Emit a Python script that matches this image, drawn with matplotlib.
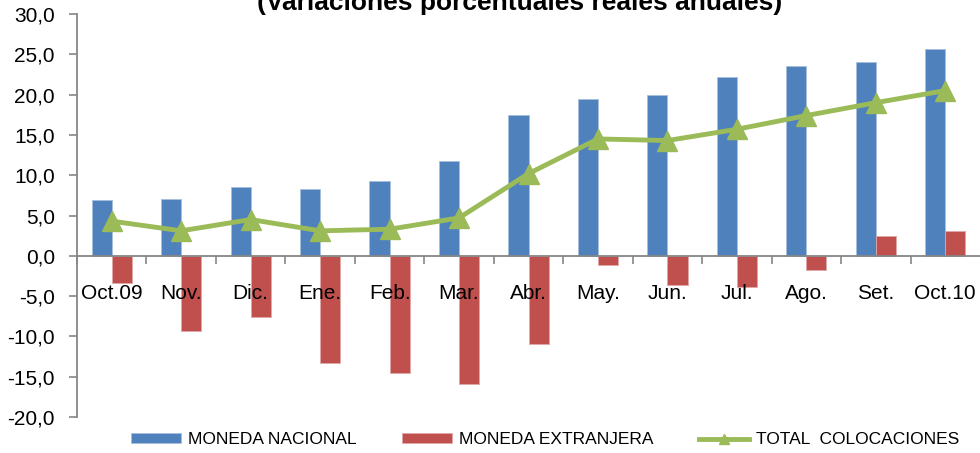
import matplotlib
matplotlib.use("Agg")
import matplotlib.pyplot as plt
import numpy as np

categories = ["Oct.09", "Nov.", "Dic.", "Ene.", "Feb.", "Mar.", "Abr.", "May.",
              "Jun.", "Jul.", "Ago.", "Set.", "Oct.10"]
moneda_nacional = [6.9, 7.1, 8.5, 8.3, 9.25, 11.8, 17.5, 19.5, 20.0, 22.2, 23.5, 24.0, 25.6]
moneda_extranjera = [-3.4, -9.3, -7.6, -13.3, -14.5, -15.9, -11.0, -1.1, -3.6, -3.9, -1.8, 2.5, 3.1]
total_colocaciones = [4.3, 3.1, 4.5, 3.1, 3.3, 4.7, 10.2, 14.5, 14.3, 15.7, 17.4, 19.0, 20.5]
yticks = [-20, -15, -10, -5, 0, 5, 10, 15, 20, 25, 30]
title = "(Variaciones porcentuales reales anuales)"

plt.rcParams['font.family'] = ['Liberation Sans', 'DejaVu Sans']

W, H = 980, 453
fig = plt.figure(figsize=(W / 100, H / 100), dpi=100)
ax = fig.add_axes([77 / W, 1 - 417 / H, (980 - 77) / W, (417 - 14) / H])

for s in ["top", "right"]:
    ax.spines[s].set_visible(False)
ax.spines["bottom"].set_position(("data", 0))
ax.spines["bottom"].set_color("#868686")
ax.spines["bottom"].set_linewidth(1.3)
ax.spines["left"].set_color("#868686")
ax.spines["left"].set_linewidth(1.3)
ax.set_axisbelow(False)

x = np.arange(len(categories))
bw = 0.29
blue = "#4F81BD"
red = "#C0504D"
green = "#9BBB59"
b1 = ax.bar(x - bw / 2, moneda_nacional, bw, color=blue, edgecolor="#A7C0DE", linewidth=0.6,
            label="MONEDA NACIONAL", zorder=2)
b2 = ax.bar(x + bw / 2, moneda_extranjera, bw, color=red, edgecolor="#E0A8A6", linewidth=0.6,
            label="MONEDA EXTRANJERA", zorder=2)
l1, = ax.plot(x, total_colocaciones, color=green, linewidth=3.5, marker="^", markersize=14,
              markeredgecolor=green, label="TOTAL  COLOCACIONES", zorder=3)

ax.set_xlim(-0.5, len(categories) - 0.5)
ax.set_ylim(-20, 30)
ax.set_yticks(yticks)
ax.set_yticklabels([f"{v:.1f}".replace(".", ",") for v in yticks])
ax.set_xticks(x)
ax.set_xticklabels(categories)
ax.set_xticks(np.arange(-0.5, len(categories) - 0.5, 1.0), minor=True)
ax.tick_params(axis="x", which="major", length=0, pad=20, labelsize=15, labelcolor="black")
ax.tick_params(axis="x", which="minor", length=6, width=1.2, color="#868686", direction="out")
ax.tick_params(axis="y", length=6, width=1.2, color="#868686", direction="out", pad=10,
               labelsize=15)

fig.text(520 / W, 1 - 10 / H, title, ha="center", va="baseline", fontsize=19, fontweight="bold")

fig.legend([b1, b2, l1], ["MONEDA NACIONAL", "MONEDA EXTRANJERA", "TOTAL  COLOCACIONES"],
           loc="center", bbox_to_anchor=(545 / W, 1 - 440 / H), ncol=3,
           frameon=False, fontsize=12.5, handlelength=2.9, handleheight=0.5,
           handletextpad=0.4, columnspacing=2.6, markerscale=0.5)

fig.savefig("out.png", dpi=100)
